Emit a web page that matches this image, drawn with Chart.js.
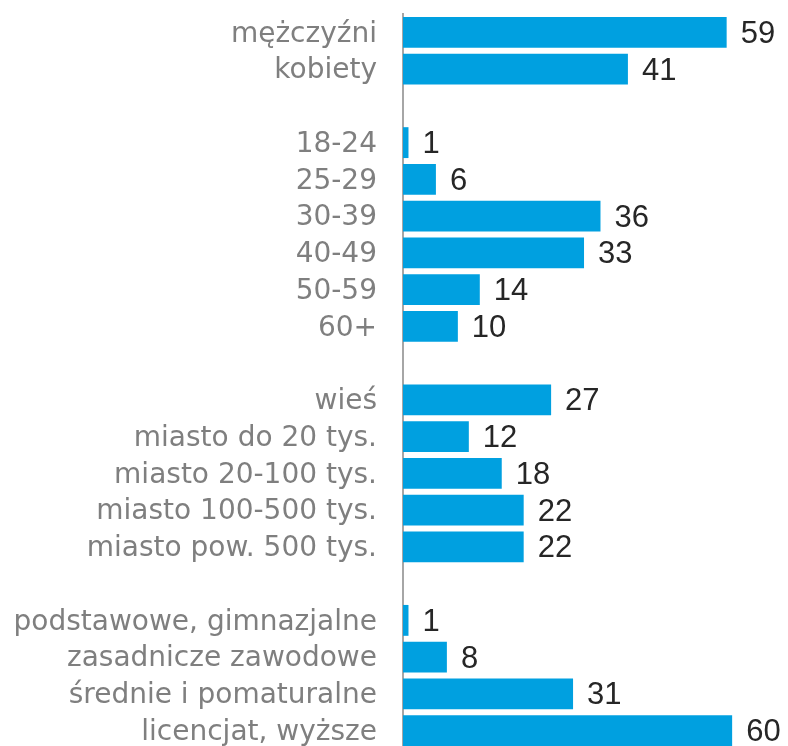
<!DOCTYPE html>
<html>
<head>
<meta charset="utf-8">
<script src="https://cdn.jsdelivr.net/npm/chart.js@4"></script>
<style>
  html, body { margin: 0; padding: 0; background: #fff; overflow: hidden; }
  #wrap { width: 788px; height: 746px; overflow: hidden; }
</style>
</head>
<body>
<div id="wrap"><canvas id="demoChart" width="788" height="749"></canvas></div>
<script>
// kategorie (puste wiersze = odstępy między grupami)
const categories = [
    'mężczyźni', 'kobiety', '',
    '18-24', '25-29', '30-39', '40-49', '50-59', '60+', '',
    'wieś', 'miasto do 20 tys.', 'miasto 20-100 tys.', 'miasto 100-500 tys.', 'miasto pow. 500 tys.', '',
    'podstawowe, gimnazjalne', 'zasadnicze zawodowe', 'średnie i pomaturalne', 'licencjat, wyższe'
];
const values = [
    59, 41, null,
    1, 6, 36, 33, 14, 10, null,
    27, 12, 18, 22, 22, null,
    1, 8, 31, 60
];
const axisMin = 0;
const axisMax = 70;

// etykiety wartości na końcu słupków
const valueLabels = {
    id: 'valueLabels',
    afterDatasetsDraw(chart) {
        const { ctx } = chart;
        const meta = chart.getDatasetMeta(0);
        ctx.save();
        ctx.font = '31px "Liberation Sans", Arial, sans-serif';
        ctx.fillStyle = '#262626';
        ctx.textAlign = 'left';
        ctx.textBaseline = 'middle';
        meta.data.forEach((bar, i) => {
            const v = values[i];
            if (v === null) return;
            ctx.fillText(String(v), bar.x + 14, bar.y + 2);
        });
        ctx.restore();
    }
};

const ctx = document.getElementById('demoChart').getContext('2d');
new Chart(ctx, {
    type: 'bar',
    data: {
        labels: categories,
        datasets: [{
            data: values,
            backgroundColor: '#00a0e0',
            barPercentage: 0.84,
            categoryPercentage: 1
        }]
    },
    options: {
        indexAxis: 'y',
        responsive: false,
        animation: false,
        layout: { padding: { top: 14, right: 1, bottom: 0, left: 0 } },
        plugins: {
            legend: { display: false },
            tooltip: { enabled: false }
        },
        scales: {
            x: {
                display: false,
                min: axisMin,
                max: axisMax
            },
            y: {
                grid: { display: false, drawTicks: false },
                border: { display: true, color: '#a6a6a6', width: 2 },
                ticks: {
                    padding: 26,
                    labelOffset: 2,
                    color: '#7f7f7f',
                    font: { family: '"DejaVu Sans", Verdana, sans-serif', size: 28 },
                    autoSkip: false
                },
                afterFit(scale) {
                    scale.width = 403;
                    scale.paddingTop = 0;
                    scale.paddingBottom = 0;
                }
            }
        }
    },
    plugins: [valueLabels]
});
</script>
</body>
</html>
